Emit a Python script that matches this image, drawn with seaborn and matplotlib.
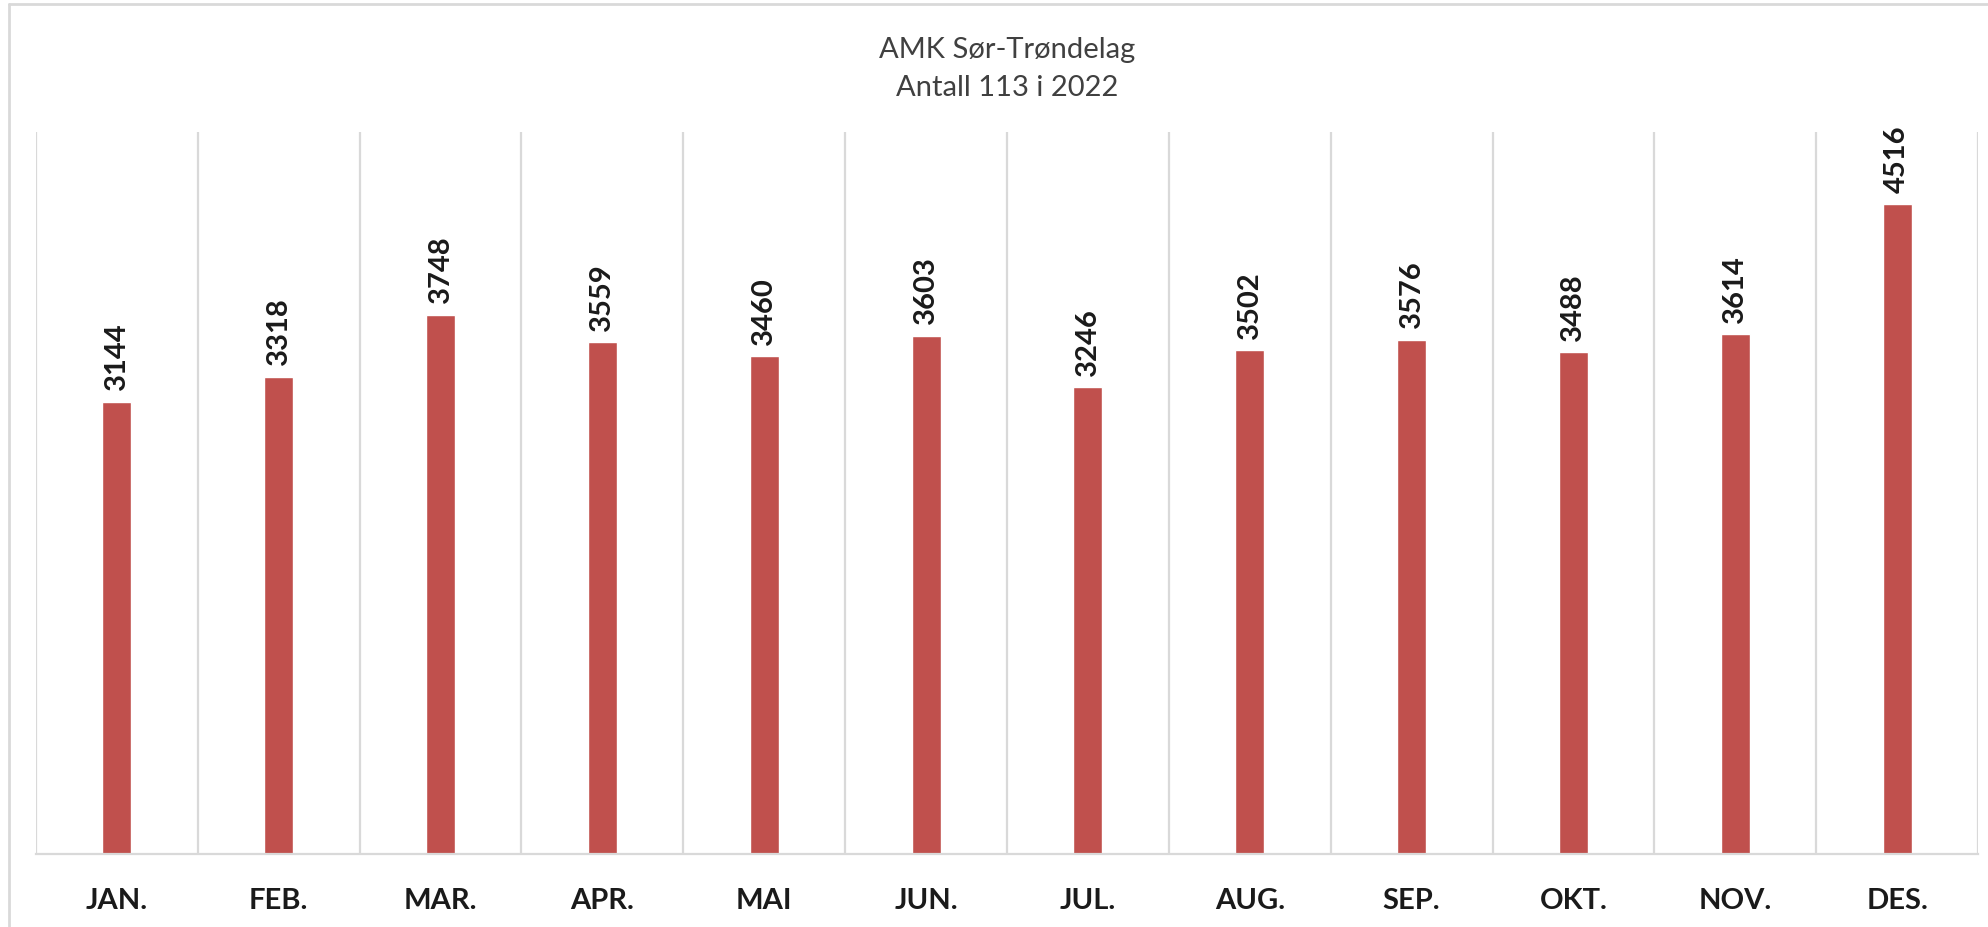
"""AMK Sør-Trøndelag: number of 113 calls per month, 2022."""
import matplotlib.pyplot as plt
import pandas as pd
import seaborn as sns
from matplotlib.lines import Line2D

sns.set_style("white")
plt.rcParams["font.family"] = ["Lato", "DejaVu Sans"]

months = ["JAN.", "FEB.", "MAR.", "APR.", "MAI", "JUN.",
          "JUL.", "AUG.", "SEP.", "OKT.", "NOV.", "DES."]
calls = [3144, 3318, 3748, 3559, 3460, 3603,
         3246, 3502, 3576, 3488, 3614, 4516]
title_lines = ["AMK Sør-Trøndelag", "Antall 113 i 2022"]

df = pd.DataFrame({"Maaned": months, "Antall": calls})

fig = plt.figure(figsize=(19.88, 9.28), dpi=100)
ax = fig.add_axes([36 / 1988, 73 / 928, 1942 / 1988, 722 / 928])

sns.barplot(data=df, x="Maaned", y="Antall", color="#C0504D",
            saturation=1, width=0.18, ax=ax)

ax.set_ylim(0, 5020)
ax.set_xlim(-0.5, len(months) - 0.5)
ax.set_yticks([])
ax.set_xlabel("")
ax.set_ylabel("")

# vertical separators between the months
ax.set_xticks([i - 0.5 for i in range(len(months) + 1)], minor=True)
ax.grid(True, which="minor", axis="x", color="#d9d9d9", linewidth=1.6)
ax.tick_params(axis="x", which="both", length=0, pad=24)
ax.set_xticklabels(months, fontsize=21, fontweight="bold", color="#1a1a1a")

for side in ["top", "left", "right"]:
    ax.spines[side].set_visible(False)
ax.spines["bottom"].set_color("#d9d9d9")
ax.spines["bottom"].set_linewidth(1.6)

ax.bar_label(ax.containers[0], rotation=90, padding=9,
             fontsize=21, fontweight="bold", color="#1a1a1a")

fig.text(1007 / 1988, 1 - 50 / 928, title_lines[0], ha="center", va="center",
         fontsize=21, color="#404040")
fig.text(1007 / 1988, 1 - 88 / 928, title_lines[1], ha="center", va="center",
         fontsize=21, color="#404040")

# outer chart frame (left and top edges only)
fig.add_artist(Line2D([9 / 1988, 9 / 1988], [0, 1 - 5 / 928],
                      transform=fig.transFigure, color="#d9d9d9", linewidth=2))
fig.add_artist(Line2D([9 / 1988, 1], [1 - 5 / 928, 1 - 5 / 928],
                      transform=fig.transFigure, color="#d9d9d9", linewidth=2))

fig.savefig("out.png", dpi=100)
